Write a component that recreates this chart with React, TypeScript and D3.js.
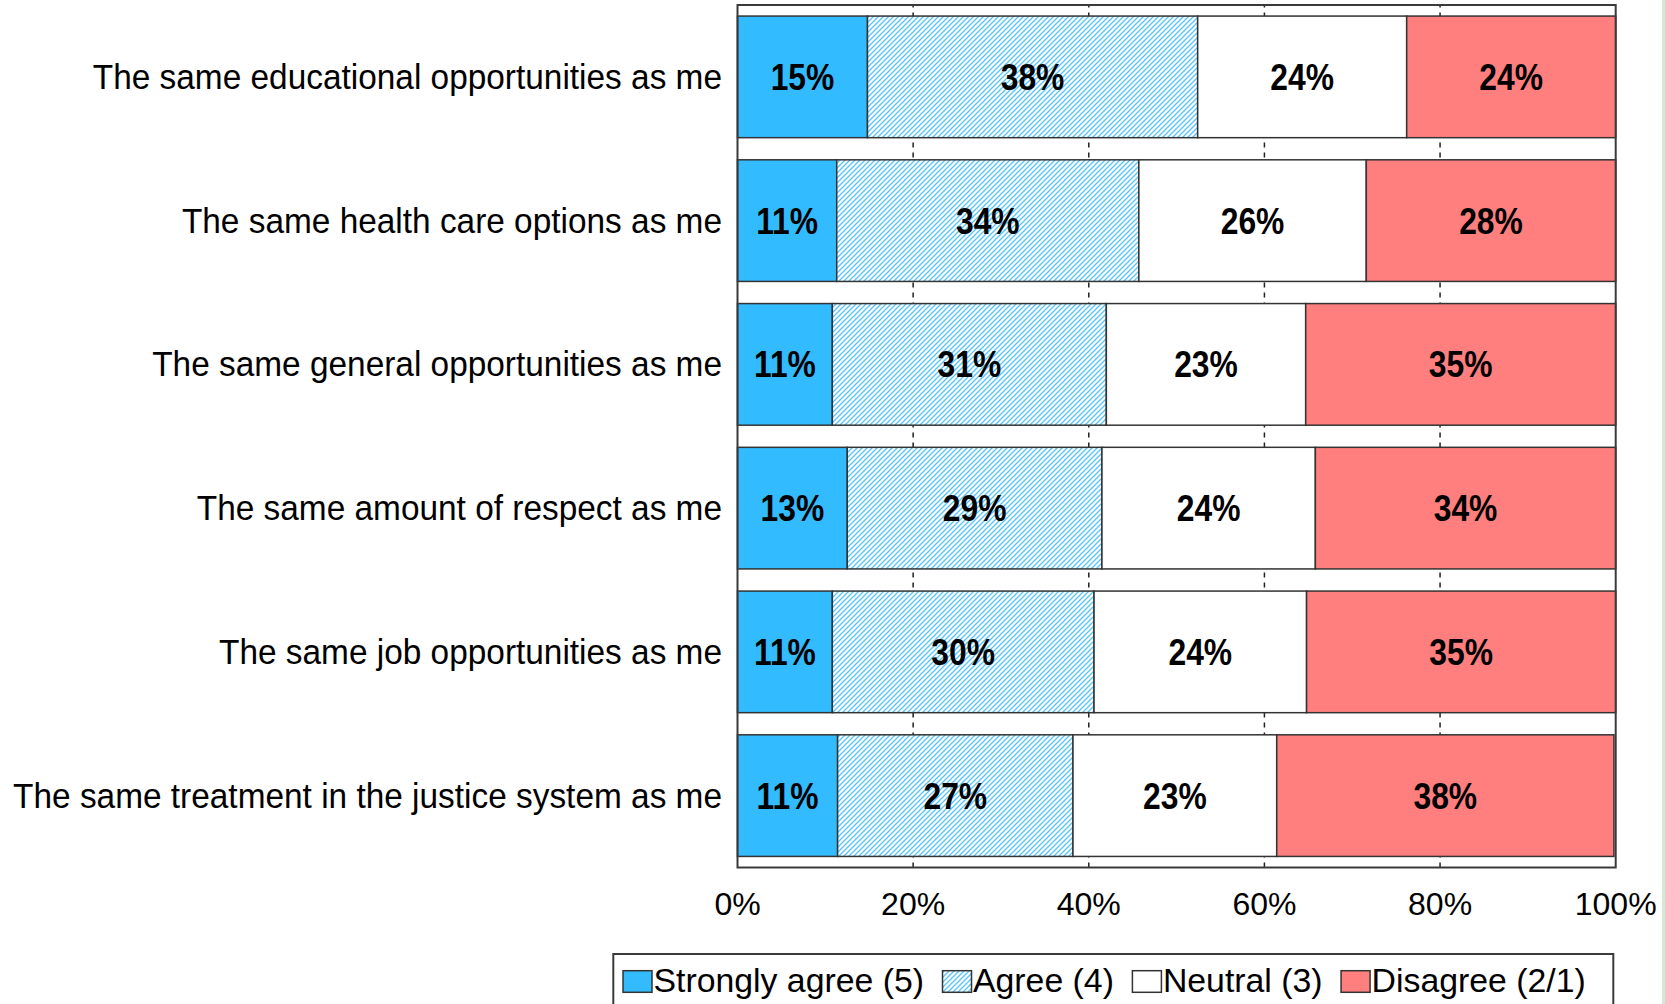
import React, { useEffect, useRef } from "react";
import * as d3 from "d3";

const categories = [
  "The same educational opportunities as me",
  "The same health care options as me",
  "The same general opportunities as me",
  "The same amount of respect as me",
  "The same job opportunities as me",
  "The same treatment in the justice system as me",
];
const stronglyAgree = [14.8, 11.3, 10.8, 12.5, 10.8, 11.4];
const agree = [37.6, 34.4, 31.2, 29.0, 29.8, 26.8];
const neutral = [23.8, 25.9, 22.7, 24.3, 24.2, 23.2];
const disagree = [23.8, 28.4, 35.3, 34.2, 35.2, 38.4];
const seriesNames = ["Strongly agree (5)", "Agree (4)", "Neutral (3)", "Disagree (2/1)"];
const xTicks = [0, 20, 40, 60, 80, 100];
const gridTicks = [20, 40, 60, 80];

const W = 1665;
const H = 1004;
const FONT = "Arial, 'Liberation Sans', sans-serif";

export default function App() {
  const ref = useRef<SVGSVGElement | null>(null);

  useEffect(() => {
    const svg = d3.select(ref.current);
    svg.selectAll("*").remove();

    const left = 737.5, right = 1615.7, top = 5, bottom = 867.5;
    const x = d3.scaleLinear().domain([0, 100]).range([left, right]);
    const y = d3.scaleBand<string>().domain(categories).range([top, bottom]).paddingInner(0.154).paddingOuter(0.077);

    const fills = ["#33BBFF", "url(#hatch)", "#FFFFFF", "#FF7F7F"];

    const defs = svg.append("defs");
    const pat = defs.append("pattern").attr("id", "hatch").attr("patternUnits", "userSpaceOnUse")
      .attr("width", 5).attr("height", 5);
    pat.append("rect").attr("width", 5).attr("height", 5).attr("fill", "#ffffff");
    pat.append("path").attr("d", "M-1,1 l2,-2 M0,5 l5,-5 M4,6 l2,-2")
      .attr("stroke", "#55C4FA").attr("stroke-width", 1.3);

    svg.append("rect").attr("width", W).attr("height", H).attr("fill", "#ffffff");
    svg.append("rect").attr("x", 1662).attr("y", 0).attr("width", 3).attr("height", H).attr("fill", "#d8e8d6");

    // dashed gridlines
    svg.append("g").selectAll("line").data(gridTicks).join("line")
      .attr("x1", (d) => x(d)).attr("x2", (d) => x(d))
      .attr("y1", bottom).attr("y2", top)
      .attr("stroke", "#222").attr("stroke-width", 1.5).attr("stroke-dasharray", "5,5");

    const stackData = categories.map((c, i) => ({
      cat: c,
      vals: [stronglyAgree[i], agree[i], neutral[i], disagree[i]],
    }));

    const g = svg.append("g");
    stackData.forEach((row) => {
      let acc = 0;
      row.vals.forEach((v, k) => {
        const x0 = x(acc), x1 = x(acc + v);
        const yy = y(row.cat)!;
        g.append("rect").attr("x", x0).attr("y", yy).attr("width", x1 - x0).attr("height", y.bandwidth())
          .attr("fill", fills[k]).attr("stroke", "#333").attr("stroke-width", 1.5);
        const cx = (x0 + x1) / 2, cy = yy + y.bandwidth() / 2;
        g.append("text").attr("transform", `translate(${cx},${cy + 13}) scale(0.86,1)`)
          .attr("text-anchor", "middle").attr("font-family", FONT).attr("font-weight", "bold")
          .attr("font-size", 37).attr("fill", "#000").text(`${Math.round(v)}%`);
        acc += v;
      });
    });

    // plot border
    svg.append("rect").attr("x", left).attr("y", top).attr("width", right - left).attr("height", bottom - top)
      .attr("fill", "none").attr("stroke", "#3a3a3a").attr("stroke-width", 2);

    // category labels
    svg.append("g").selectAll("text").data(categories).join("text")
      .attr("transform", (d) => `translate(${left - 15.5},${y(d)! + y.bandwidth() / 2 + 12}) scale(0.941,1)`)
      .attr("text-anchor", "end").attr("font-family", FONT).attr("font-size", 35.5).attr("fill", "#000")
      .text((d) => d);

    // x axis labels
    svg.append("g").selectAll("text").data(xTicks).join("text")
      .attr("x", (d) => x(d)).attr("y", 915).attr("text-anchor", "middle")
      .attr("font-family", FONT).attr("font-size", 32).attr("fill", "#000")
      .text((d) => `${d}%`);

    // legend
    const lg = svg.append("g");
    lg.append("rect").attr("x", 613.3).attr("y", 954).attr("width", 1000).attr("height", 70)
      .attr("fill", "#fff").attr("stroke", "#3a3a3a").attr("stroke-width", 2);
    let lx = 623;
    seriesNames.forEach((name, k) => {
      lg.append("rect").attr("x", lx).attr("y", 970.7).attr("width", 29).attr("height", 21.6)
        .attr("fill", fills[k]).attr("stroke", "#333").attr("stroke-width", 1.5);
      const t = lg.append("text").attr("x", lx + 30.5).attr("y", 992.3).attr("font-family", FONT)
        .attr("font-size", 33.8).attr("fill", "#000").text(name);
      const tw = (t.node() as SVGTextElement).getComputedTextLength();
      lx = lx + 30.5 + tw + 18.5;
    });
  }, []);

  return (
    <svg ref={ref} width={W} height={H} style={{ position: "absolute", left: 0, top: 0, display: "block" }} />
  );
}
